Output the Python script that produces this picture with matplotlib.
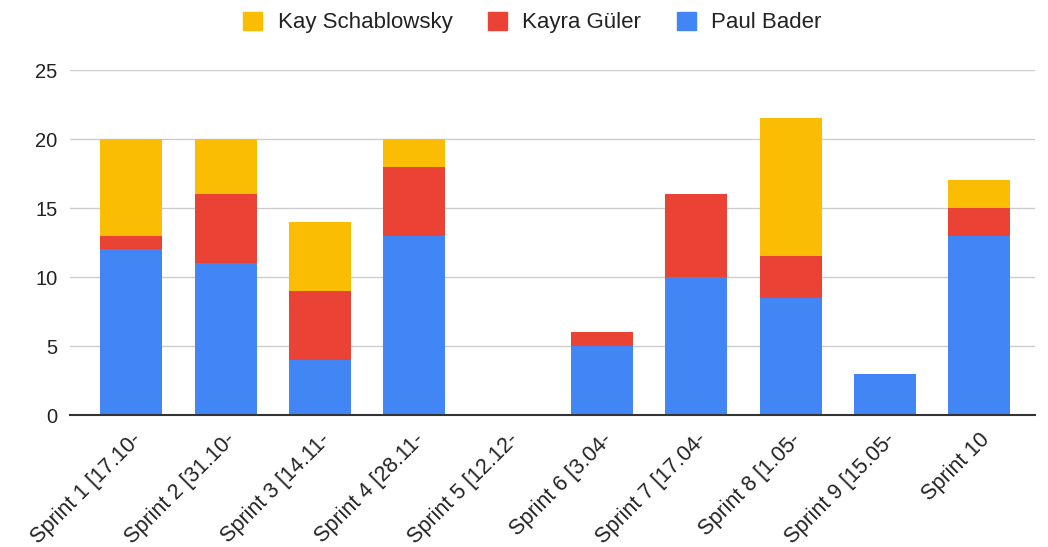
import numpy as np
import matplotlib.pyplot as plt
from matplotlib.patches import Patch

plt.rcParams['font.family'] = ['Liberation Sans', 'DejaVu Sans']

sprints = ["Sprint 1 [17.10-", "Sprint 2 [31.10-", "Sprint 3 [14.11-", "Sprint 4 [28.11-",
           "Sprint 5 [12.12-", "Sprint 6 [3.04-", "Sprint 7 [17.04-", "Sprint 8 [1.05-",
           "Sprint 9 [15.05-", "Sprint 10"]
paul = [12, 11, 4, 13, 0, 5, 10, 8.5, 3, 13]
kayra = [1, 5, 5, 5, 0, 1, 6, 3, 0, 2]
kay = [7, 4, 5, 2, 0, 0, 0, 10, 0, 2]

c_kay = "#FBBC04"
c_kayra = "#EA4335"
c_paul = "#4285F4"

fig = plt.figure(figsize=(10.48, 5.47), dpi=100)
ax = fig.add_axes([0.067, 0.241, 0.921, 0.631])

x = np.arange(len(sprints))
w = 0.66
paul = np.array(paul)
kayra = np.array(kayra)
kay = np.array(kay)
ax.bar(x, paul, w, color=c_paul, zorder=2)
ax.bar(x, kayra, w, bottom=paul, color=c_kayra, zorder=2)
ax.bar(x, kay, w, bottom=paul + kayra, color=c_kay, zorder=2)

ax.set_xlim(-0.65, 9.6)
ax.set_ylim(0, 25)
ax.set_yticks([0, 5, 10, 15, 20, 25])
ax.yaxis.grid(True, color="#cccccc", linewidth=1)
ax.set_axisbelow(True)
for s in ["top", "right", "left"]:
    ax.spines[s].set_visible(False)
ax.spines["bottom"].set_color("#333333")
ax.spines["bottom"].set_linewidth(1.5)
ax.spines["bottom"].set_zorder(3)
ax.tick_params(axis="y", length=0, labelsize=14.5, labelcolor="#222222", pad=9)
ax.tick_params(axis="x", length=0, labelsize=15.5, labelcolor="#222222", pad=10)
ax.set_xticks(x)
ax.set_xticklabels(sprints, rotation=45, ha="right", rotation_mode="anchor")

handles = [Patch(color=c_kay, label="Kay Schablowsky"),
           Patch(color=c_kayra, label="Kayra Güler"),
           Patch(color=c_paul, label="Paul Bader")]
fig.legend(handles=handles, loc="upper center", bbox_to_anchor=(0.508, 1.015), ncol=3,
           frameon=False, fontsize=16, handlelength=0.85, handleheight=0.85,
           columnspacing=1.6, handletextpad=0.7, labelcolor="#222222")

fig.savefig("out.png", dpi=100)
